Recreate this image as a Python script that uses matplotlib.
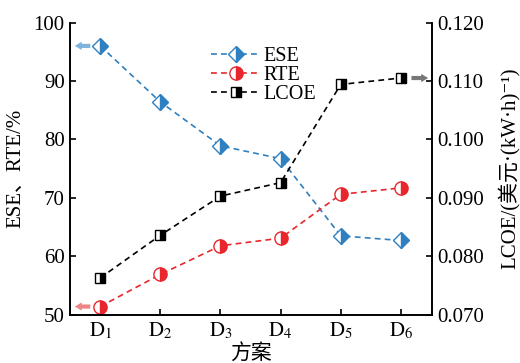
# Import the required modules
import matplotlib.pyplot as plt

plt.rcParams['font.family'] = ['Liberation Serif', 'Noto Sans CJK SC', 'DejaVu Sans']
plt.rcParams['mathtext.fontset'] = 'stix'

# Data
schemes = [r'$\mathrm{D}_{1}$', r'$\mathrm{D}_{2}$', r'$\mathrm{D}_{3}$',
           r'$\mathrm{D}_{4}$', r'$\mathrm{D}_{5}$', r'$\mathrm{D}_{6}$']
x = [1, 2, 3, 4, 5, 6]
ese = [96.0, 86.4, 78.9, 76.7, 63.5, 62.7]
rte = [51.4, 56.9, 61.8, 63.1, 70.6, 71.7]
lcoe = [0.0763, 0.0836, 0.0903, 0.0926, 0.1094, 0.1105]

blue = '#2f80c0'
red = '#e8262c'
fs = 15

# Set the figsize
fig = plt.figure(figsize=(5.2, 3.63), dpi=100)
ax = fig.add_axes([0.135, 0.133, 0.696, 0.805])
ax2 = ax.twinx()

# Left axis: ESE and RTE
l1, = ax.plot(x, ese, ls=(0, (3.5, 2.5)), lw=1.2, color=blue, marker='D', ms=8.5,
              fillstyle='right', markerfacecoloralt='white', mec=blue, mew=1.0, label='ESE')
l2, = ax.plot(x, rte, ls=(0, (3.5, 2.5)), lw=1.2, color=red, marker='o', ms=9.5,
              fillstyle='right', markerfacecoloralt='white', mec=red, mew=1.0, label='RTE')
# Right axis: LCOE
l3, = ax2.plot(x, lcoe, ls=(0, (3.5, 2.5)), lw=1.2, color='black', marker='s', ms=7.5,
               fillstyle='right', markerfacecoloralt='white', mec='black', mew=1.0, label='LCOE')

ax.set_xlim(0.5, 6.52)
ax.set_ylim(50, 100)
ax2.set_ylim(0.070, 0.120)
ax.set_xticks(x)
ax.set_xticklabels(schemes)
ax.set_yticks([50, 60, 70, 80, 90, 100])
ax2.set_yticks([0.070, 0.080, 0.090, 0.100, 0.110, 0.120])
ax2.set_yticklabels(['0.070', '0.080', '0.090', '0.100', '0.110', '0.120'])

for a in (ax, ax2):
    a.spines['top'].set_visible(False)
    for s in a.spines.values():
        s.set_linewidth(1.2)
    a.tick_params(direction='in', length=4, width=1.2, labelsize=fs, pad=4)

# Arrows showing which axis each series belongs to
ax.annotate('', xy=(0.53, ese[0]), xytext=(0.88, ese[0]),
            arrowprops=dict(arrowstyle='simple,head_width=0.6,head_length=0.5,tail_width=0.3',
                            color='#7db3dd', lw=0))
ax.annotate('', xy=(0.53, rte[0]), xytext=(0.88, rte[0]),
            arrowprops=dict(arrowstyle='simple,head_width=0.6,head_length=0.5,tail_width=0.3',
                            color='#f08585', lw=0))
ax2.annotate('', xy=(6.5, lcoe[5]), xytext=(6.13, lcoe[5]),
             arrowprops=dict(arrowstyle='simple,head_width=0.6,head_length=0.5,tail_width=0.3',
                             color='#777777', lw=0))

# Labels
ax.set_xlabel('方案', fontsize=fs, labelpad=2)
ax.set_ylabel('ESE、RTE/%', fontsize=fs, labelpad=6)
ax2.set_ylabel('LCOE/(美元·(kW·h)⁻¹)', fontsize=fs, labelpad=10)

# Legend
ax.legend([l1, l2, l3], ['ESE', 'RTE', 'LCOE'], loc='upper left', bbox_to_anchor=(0.34, 0.98),
          frameon=False, fontsize=14.5, handlelength=2.4, labelspacing=0.0, handletextpad=0.2)

plt.savefig('out.png', dpi=100)
